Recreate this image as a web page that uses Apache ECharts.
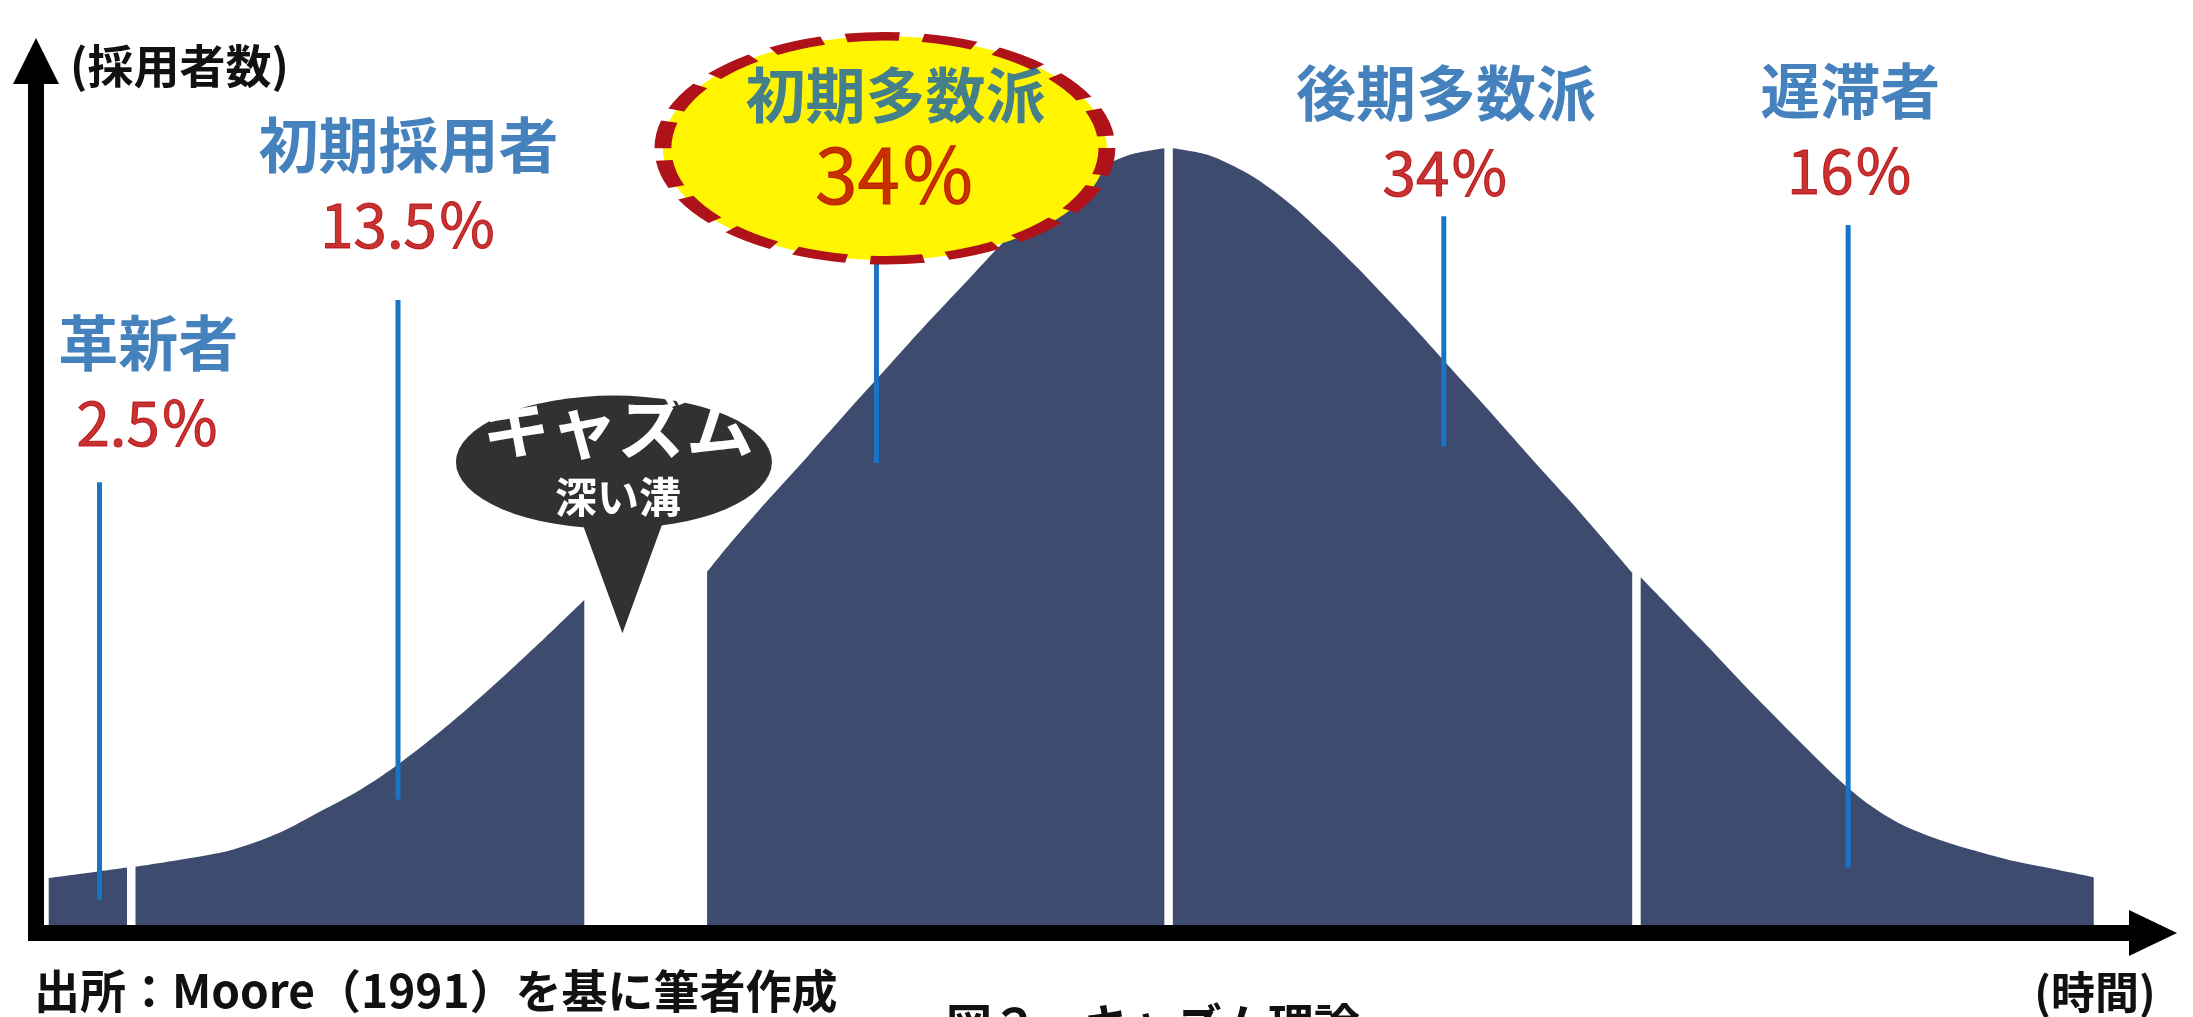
<!DOCTYPE html>
<html><head><meta charset="utf-8">
<script src="https://cdn.jsdelivr.net/npm/echarts@6/dist/echarts.min.js"></script>
<style>html,body{margin:0;padding:0;background:#fff}#c{width:2193px;height:1017px}</style>
</head><body><div id="c"></div>
<script>
// ---- data (x: time, 0-100 ; y: adopters, 0-100) ----
const segments = ['革新者', '初期採用者', '初期多数派', '後期多数派', '遅滞者'];
const shares = ['2.5％', '13.5％', '34％', '34％', '16％'];

const innovatorsCurve = [[0.6, 6.3], [2.5, 6.9], [4.3, 7.5]];
const earlyAdoptersCurve = [[4.7, 7.6], [6.8, 8.4], [9.2, 9.5], [11.5, 11.5], [13.4, 13.9], [15.3, 16.4],
  [17.2, 19.5], [19.6, 24.1], [21.9, 29.0], [23.8, 33.3], [25.9, 38.2]];
const earlyMajorityCurve = [[31.7, 41.4], [32.7, 44.4], [34.6, 49.7], [36.5, 54.8], [38.4, 60.0], [40.3, 65.1],
  [42.2, 70.2], [44.1, 75.1], [45.9, 79.7], [47.8, 83.7], [49.7, 87.0], [51.6, 89.2], [53.3, 90.0]];
const lateMajorityCurve = [[53.7, 90.0], [55.4, 89.2], [57.3, 87.0], [59.2, 83.7], [61.0, 79.7], [62.9, 75.1],
  [64.8, 70.2], [66.7, 65.1], [68.6, 60.0], [70.5, 54.8], [72.4, 49.7], [74.3, 44.4], [75.4, 41.3]];
const laggardsCurve = [[75.8, 40.8], [78.6, 33.8], [80.9, 27.9], [83.3, 22.0], [85.2, 17.5], [86.6, 14.7],
  [88.0, 12.6], [89.9, 10.7], [91.8, 9.3], [93.7, 8.1], [95.6, 7.2], [97.2, 6.4]];

const leaderX = [3.0, 17.1, 39.7, 66.5, 85.6];
const leaderTop = [51.7, 72.6, 80.0, 82.2, 81.2];
const leaderBottom = [3.8, 15.3, 53.9, 55.8, 7.5];
const labelAnchor = [[5.3, 63.1], [17.6, 85.7], [40.6, 91.5], [66.6, 91.7], [85.7, 92.0]];
const highlightAnchor = [40.1, 90.0];
const chasmAnchor = [27.3, 54.0];
const chasmTailAnchor = [27.7, 42.0];

const yAxisTitle = '(採用者数)';
const xAxisTitle = '(時間)';
const sourceNote = '出所：Moore（1991）を基に筆者作成';
const figureTitle = '図２　キャズム理論';
const chasmTitle = 'キャズム';
const chasmSub = '深い溝';

// ---- chart ----
const FONT = '"Noto Sans CJK JP", "Noto Sans", sans-serif';
const AREA = '#3d4c6e';
const BLUE = '#1763ad';
const RED = '#b80000';
const LEADER = '#1a74c6';

const chart = echarts.init(document.getElementById('c'), null, {renderer: 'canvas'});

function areaSeries(name, data) {
  return {type: 'line', name: name, data: data, smooth: 0.3,
    showSymbol: false, symbol: 'none', lineStyle: {width: 0}, silent: true,
    areaStyle: {color: AREA, opacity: 1}, z: 2};
}

const series = [
  areaSeries('革新者', innovatorsCurve),
  areaSeries('初期採用者', earlyAdoptersCurve),
  areaSeries('初期多数派', earlyMajorityCurve),
  areaSeries('後期多数派', lateMajorityCurve),
  areaSeries('遅滞者', laggardsCurve)
];

leaderX.forEach(function (x, i) {
  series.push({type: 'line', data: [[x, leaderTop[i]], [x, leaderBottom[i]]], symbol: 'none',
    silent: true, lineStyle: {color: LEADER, width: 5}, z: 3});
});

// highlight ellipse
series.push({type: 'scatter', clip: false, silent: true, z: 4,
  data: [{value: highlightAnchor, symbol: 'circle', symbolSize: [444, 224]}],
  itemStyle: {color: '#fff500', opacity: 1, borderColor: '#b0121a', borderWidth: 12, borderType: [38, 17]}
});

// chasm speech bubble
series.push({type: 'scatter', clip: false, silent: true, z: 4,
  itemStyle: {color: '#323132', opacity: 1},
  data: [
    {value: chasmTailAnchor, symbol: 'triangle', symbolSize: [97, 133], symbolRotate: 180},
    {value: chasmAnchor, symbol: 'circle', symbolSize: [316, 133],
      label: {show: true, position: 'inside', offset: [4, 0],
        formatter: '{a|' + chasmTitle + '}\n{b|' + chasmSub + '}',
        rich: {
          a: {fontFamily: FONT, fontSize: 68, fontWeight: 'bold', color: '#fff', lineHeight: 70, align: 'center'},
          b: {fontFamily: FONT, fontSize: 42, fontWeight: 'bold', color: '#fff', lineHeight: 70, align: 'center'}
        }}}
  ]
});

// segment labels
series.push({type: 'scatter', clip: false, silent: true, z: 5, symbol: 'circle', symbolSize: 1,
  itemStyle: {color: 'rgba(0,0,0,0)'},
  data: labelAnchor.map(function (p, i) {
    return {value: p, name: segments[i],
      label: {show: true, position: 'inside',
        formatter: '{n|' + segments[i] + '}\n{' + (i === 2 ? 'q' : 'p') + '|' + shares[i] + '}',
        rich: {
          n: {fontFamily: FONT, fontSize: 60, fontWeight: 'bold', color: BLUE, lineHeight: 80, align: 'center'},
          p: {fontFamily: FONT, fontSize: 60, fontWeight: 'normal', color: RED, lineHeight: 80, align: 'center',
              textBorderColor: RED, textBorderWidth: 1},
          q: {fontFamily: FONT, fontSize: 76, fontWeight: 'normal', color: RED, lineHeight: 80, align: 'center',
              textBorderColor: RED, textBorderWidth: 1}
        }}};
  })
});

const axisLineStyle = {color: '#000', width: 16, cap: 'square'};

chart.setOption({
  animation: false,
  backgroundColor: '#fff',
  grid: {left: 36, right: 40, top: 61, bottom: 84, containLabel: false, outerBoundsMode: 'none'},
  xAxis: {type: 'value', min: 0, max: 100, z: 10,
    axisLine: {show: true, onZero: false, symbol: ['none', 'triangle'], symbolSize: [46, 48], lineStyle: axisLineStyle},
    axisTick: {show: false}, axisLabel: {show: false}, splitLine: {show: false}},
  yAxis: {type: 'value', min: 0, max: 100, z: 10,
    axisLine: {show: true, onZero: false, symbol: ['none', 'triangle'], symbolSize: [46, 46], lineStyle: axisLineStyle},
    axisTick: {show: false}, axisLabel: {show: false}, splitLine: {show: false}},
  graphic: [
    {type: 'text', x: 70, y: 66, style: {text: yAxisTitle, fontFamily: FONT, fontSize: 46, fontWeight: 'bold', fill: '#111', align: 'left', verticalAlign: 'middle'}},
    {type: 'text', x: 2095, y: 992, style: {text: xAxisTitle, fontFamily: FONT, fontSize: 44, fontWeight: 'bold', fill: '#111', align: 'center', verticalAlign: 'middle'}},
    {type: 'text', x: 34, y: 991, style: {text: sourceNote, fontFamily: FONT, fontSize: 46, fontWeight: 'bold', fill: '#111', align: 'left', verticalAlign: 'middle'}},
    {type: 'text', x: 946, y: 1002, style: {text: figureTitle, fontFamily: FONT, fontSize: 46, fontWeight: 'bold', fill: '#111', align: 'left', verticalAlign: 'top'}}
  ],
  series: series
});
</script>
</body></html>
